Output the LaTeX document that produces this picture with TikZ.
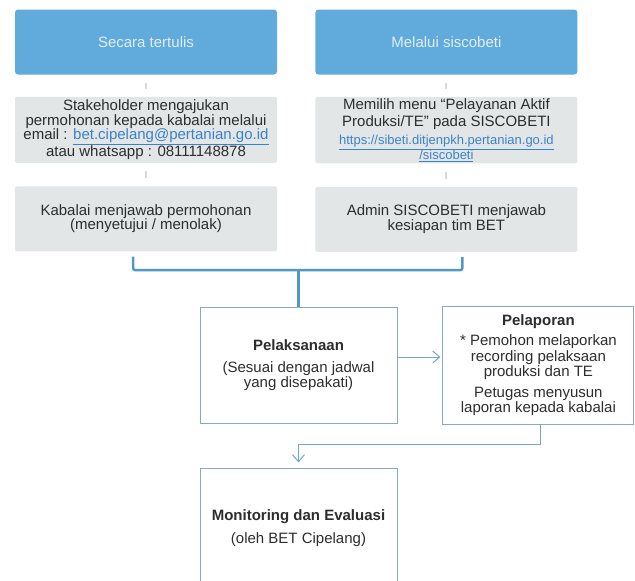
\documentclass[tikz,border=0pt]{standalone}
\usepackage{fontspec}
\setmainfont{Liberation Sans}
\usetikzlibrary{positioning, arrows.meta}
\usepackage{xcolor}

\definecolor{headblue}{RGB}{96,170,220}
\definecolor{headtext}{RGB}{225,238,248}
\definecolor{stepgray}{RGB}{226,230,231}
\definecolor{txtgray}{RGB}{45,45,45}
\definecolor{linkblue}{RGB}{60,130,200}
\definecolor{framegray}{RGB}{140,168,188}
\definecolor{bracketblue}{RGB}{82,152,196}
\definecolor{arrowblue}{RGB}{115,165,205}

\newcommand{\weblink}[1]{\textcolor{linkblue}{\underline{#1}}}

\begin{document}
\begin{tikzpicture}[
    x=1pt, y=-1pt,
    node distance=22pt and 38pt,
    every node/.style={font=\fontsize{15}{14.5}\selectfont, text=txtgray},
    headbox/.style={fill=headblue, rounded corners=3pt, minimum width=262pt, minimum height=65pt, text=headtext},
    stepbox/.style={fill=stepgray, rounded corners=2pt, minimum width=262pt, minimum height=66pt, align=center, inner sep=2pt},
    framebox/.style={draw=framegray, line width=0.9pt, minimum width=197pt, minimum height=116pt, align=center},
    tick/.style={gray!30, line width=2pt, shorten <=8pt, shorten >=8pt},
    bracket/.style={bracketblue, line width=2.5pt, rounded corners=2pt},
    arrow/.style={-{Straight Barb[length=7pt, width=12pt]}, arrowblue, line width=1pt},
]

\useasboundingbox (0,0) rectangle (635,581);
\clip (0,0) rectangle (635,581);

% ── Two ways in ──
\node[headbox] (headL) at (146,42) {Secara tertulis};
\node[headbox, right=of headL] (headR) {Melalui siscobeti};

% ── Requests ──
\node[stepbox, below=of headL] (reqL)
    {Stakeholder mengajukan\\permohonan kepada kabalai melalui\\
     email : \weblink{bet.cipelang@pertanian.go.id}\\atau whatsapp : 08111148878};
\node[stepbox, below=of headR] (reqR)
    {Memilih menu ``Pelayanan Aktif\\[2pt]Produksi/TE'' pada SISCOBETI\\[4pt]
     {\fontsize{13}{15}\selectfont\weblink{https://sibeti.ditjenpkh.pertanian.go.id}}\\
     {\fontsize{13}{15}\selectfont\weblink{/siscobeti}}};

% ── Answers ──
\node[stepbox, minimum height=65pt, below=23pt of reqL] (ansL)
    {Kabalai menjawab permohonan\\(menyetujui / menolak)};
\node[stepbox, minimum height=65pt, below=23pt of reqR] (ansR)
    {Admin SISCOBETI menjawab\\kesiapan tim BET};

% ── Lower flow ──
\node[framebox] (exec) at (298.5,365)
    {\textbf{Pelaksanaan}\\[8pt](Sesuai dengan jadwal\\yang disepakati)};
\node[framebox, minimum width=191pt, minimum height=118pt, right=45pt of exec] (report)
    {\textbf{Pelaporan}\\[6pt]* Pemohon melaporkan\\[1pt]recording pelaksaan\\[1pt]produksi dan TE\\[6pt]
     Petugas menyusun\\[1pt]laporan kepada kabalai};
\node[framebox, minimum height=118pt, below=45pt of exec] (monev)
    {\textbf{Monitoring dan Evaluasi}\\[8pt](oleh BET Cipelang)};

\coordinate (join) at (298.5,270);

% ── Connectors ──
\draw[tick] (headL) -- (reqL);
\draw[tick] (headR) -- (reqR);
\draw[tick] (reqL) -- (ansL);
\draw[tick] (reqR) -- (ansR);

\draw[bracket] ([xshift=-13pt,yshift=-5pt]ansL.south) |- (join)
    -| ([xshift=16pt,yshift=-5pt]ansR.south);
\draw[bracket] (join) -- (exec.north);

\draw[arrow, shorten >=2pt] ([yshift=8pt]exec.east) -- ([yshift=8pt]report.west);
\draw[arrow] ([xshift=2.5pt]report.south) -- ++(0,20) -| ([yshift=6pt]monev.north);

\end{tikzpicture}
\end{document}
